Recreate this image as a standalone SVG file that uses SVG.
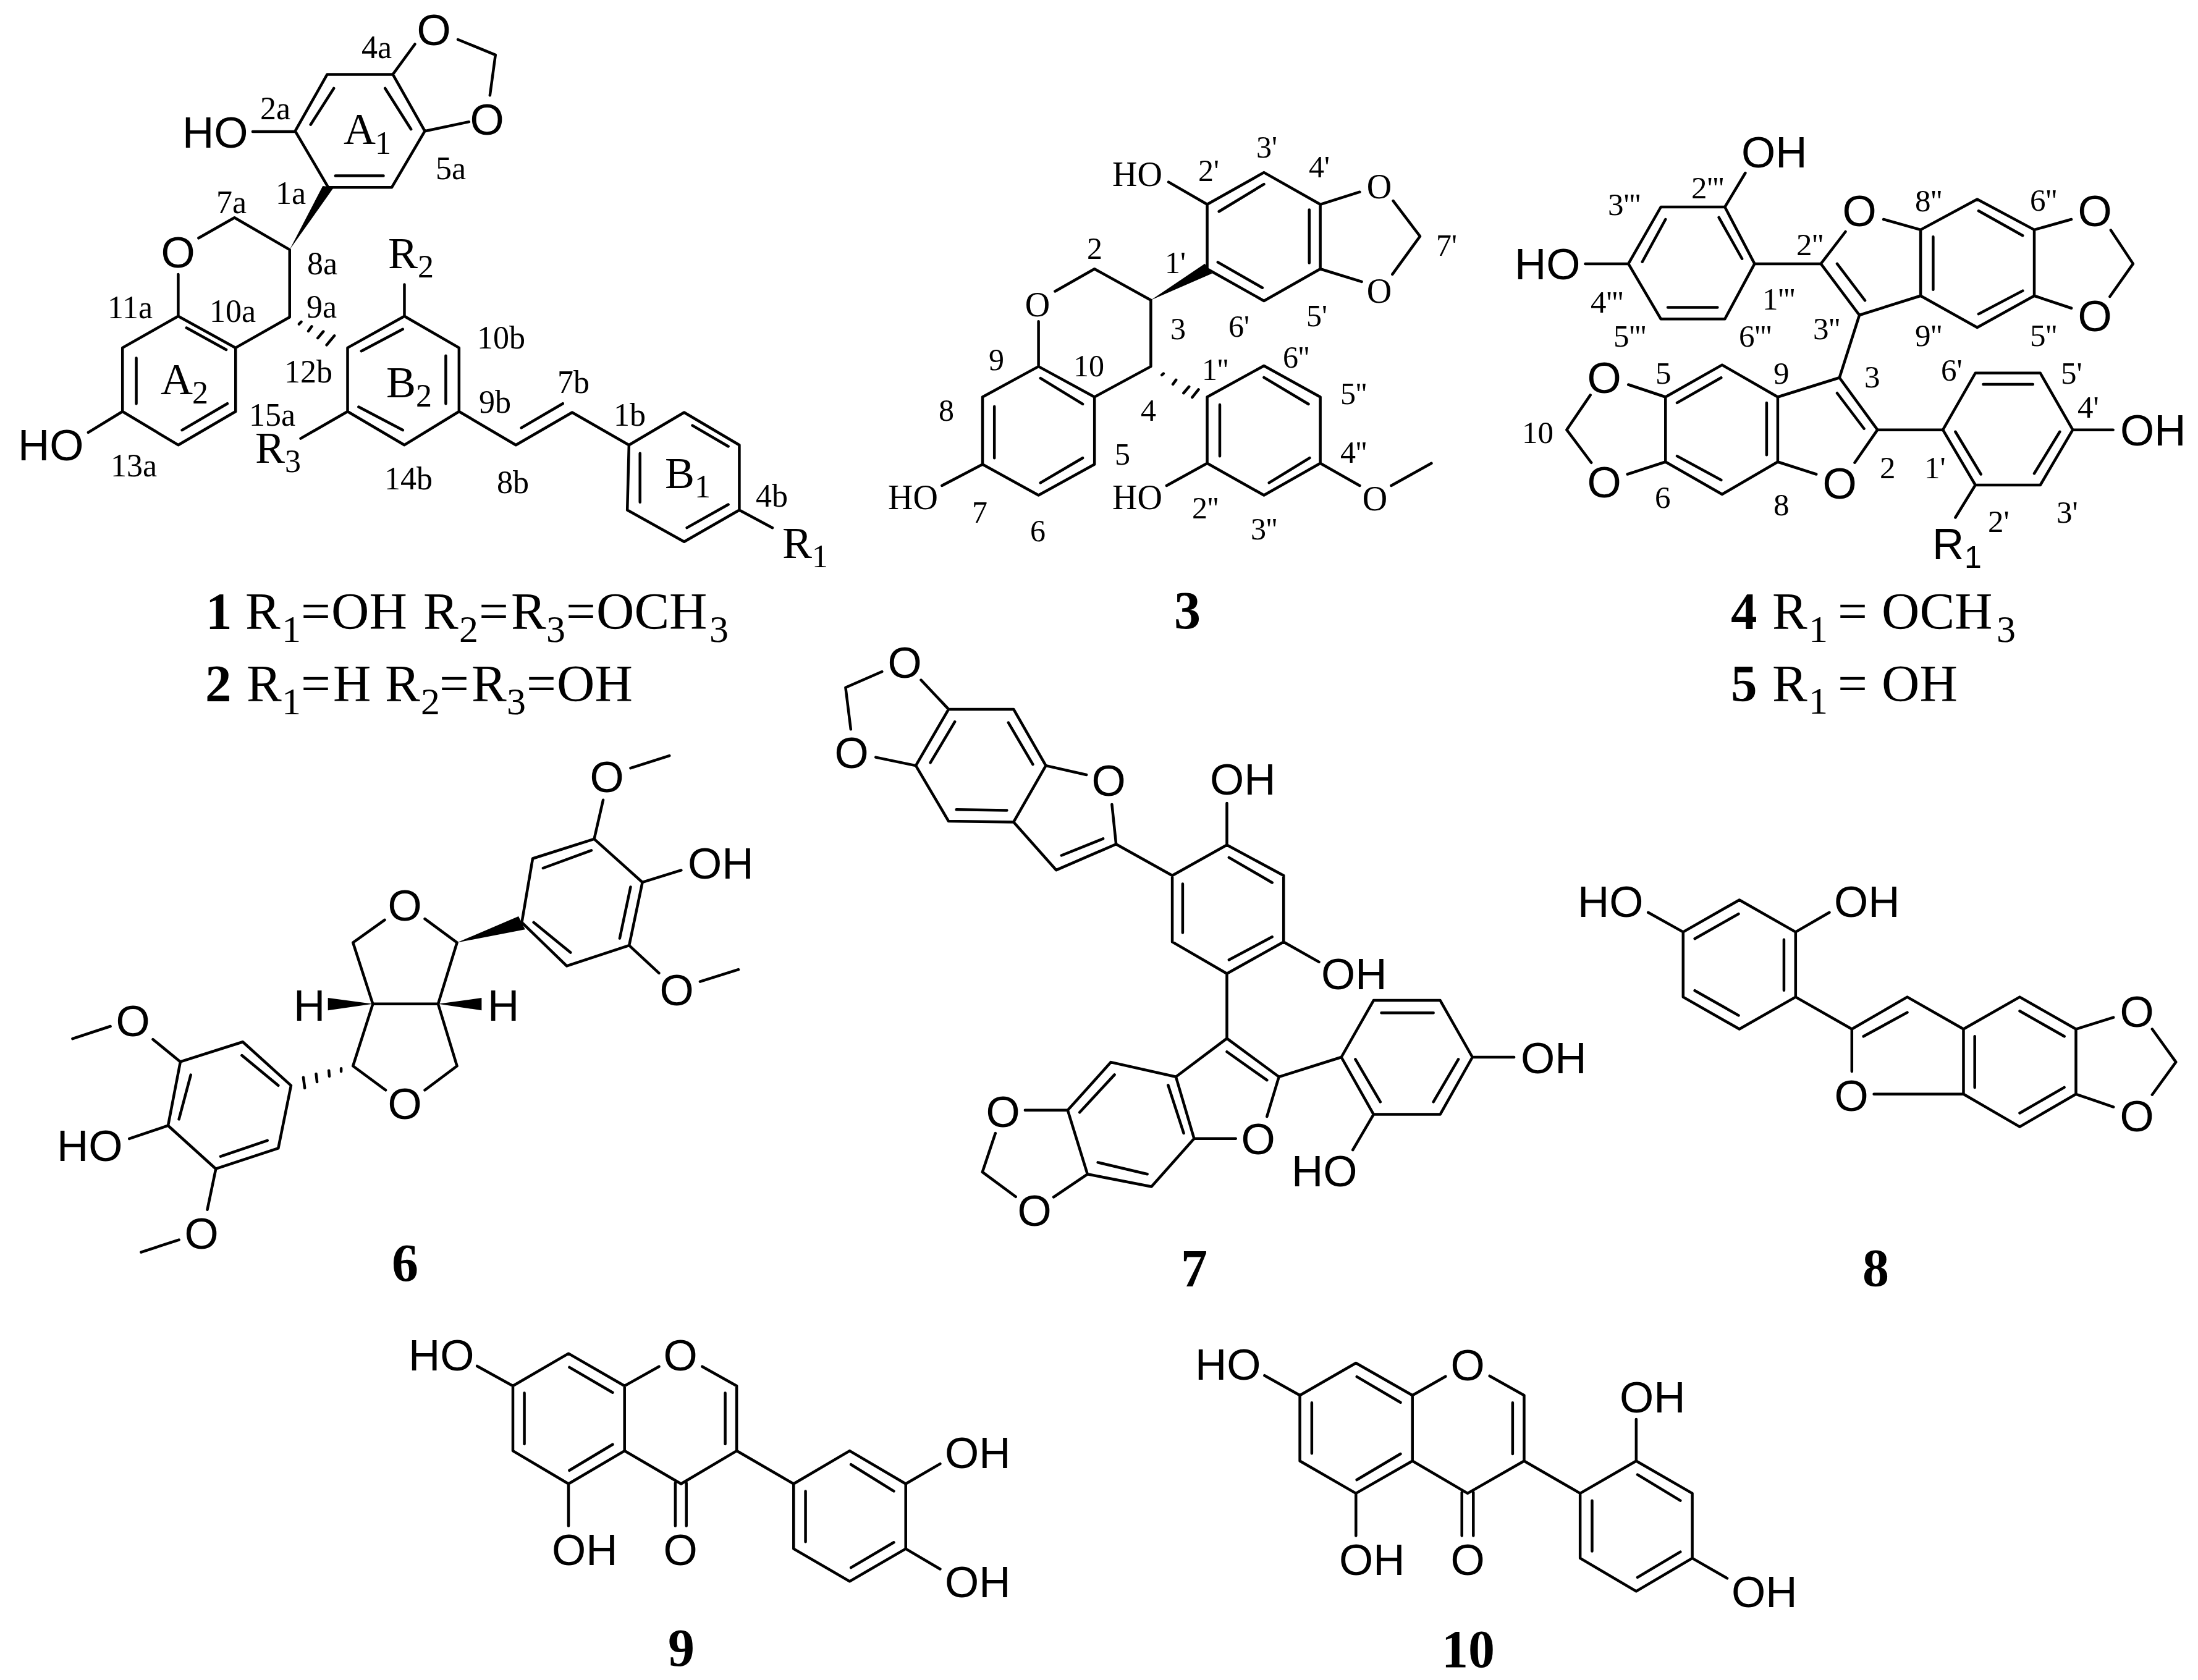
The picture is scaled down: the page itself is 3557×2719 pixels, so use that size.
<svg xmlns="http://www.w3.org/2000/svg" width="3557" height="2719" viewBox="0 0 3557 2719">
<style>
.b{fill:none;stroke:#000;stroke-width:4.5;vector-effect:non-scaling-stroke;stroke-linecap:round;stroke-linejoin:round}
.w{fill:#000;stroke:none}
text{fill:#000}
.s{font:71px "Liberation Sans",Arial,sans-serif}
.sm{font:50px "Liberation Sans",Arial,sans-serif}
.o{font:71px "Liberation Sans",Arial,sans-serif;text-anchor:middle}
.t{font:52px "Liberation Serif","Times New Roman",serif}
.h{font:56px "Liberation Serif","Times New Roman",serif}
.oo{font:56px "Liberation Serif","Times New Roman",serif;text-anchor:middle}
.r{font:72px "Liberation Serif","Times New Roman",serif}
.u{font-size:52px}
.c{font:85px "Liberation Serif","Times New Roman",serif}
.cu{font-size:62px}
.n{font-weight:bold}
.nn{font:bold 86px "Liberation Serif","Times New Roman",serif}
</style>
<rect width="3557" height="2719" fill="#fff"/>

<g id="compound-1">
<g class="bonds" transform="scale(.89286,.75255)">
<path class="b" d="M593 160L712 160L770 282L710 403L595 403L535 282Z M563 268L605 190 M698 190L745 278 M608 378L695 378 M712 160L752 95 M830 85L898 118L888 205 M770 282L850 262 M458 283L535 283 M360 512L425 468L525 537L525 682L427 748 M323 590L323 680 M323 680L427 748L427 885L323 957L222 885L222 748Z M338 705L410 752 M247 770L247 868 M330 925L412 868 M160 930L222 885 M733 680L832 748L832 885L733 957L630 885L630 748Z M730 708L655 755 M808 765L808 868 M650 875L730 925 M733 612L733 680 M545 943L630 885 M832 885L935 957L1037 887L1140 957 M945 920L1020 868 M1140 957L1240 887L1340 957L1340 1097L1240 1165L1137 1097Z M1255 915L1320 960 M1160 975L1160 1080 M1245 1135L1320 1085 M1340 1097L1400 1135 M542 697L546 692 M559 712L565 702 M576 727L586 713 M592 742L606 722"/>
<polygon class="w" points="525,537 585,400 605,403"/>
</g>
<text class="o" x="702" y="73">O</text><text class="o" x="788" y="218">O</text><text class="s" x="295" y="239">HO</text><text class="o" x="288" y="433">O</text><text class="s" x="29" y="745">HO</text>
<g class="t">
<text x="585" y="94">4a</text><text x="421" y="193">2a</text><text x="446" y="330">1a</text><text x="705" y="290">5a</text><text x="350" y="345">7a</text><text x="497" y="444">8a</text><text x="496" y="514">9a</text><text x="174" y="515">11a</text><text x="339" y="521">10a</text><text x="772" y="564">10b</text><text x="460" y="619">12b</text><text x="403" y="689">15a</text><text x="775" y="668">9b</text><text x="902" y="636">7b</text><text x="993" y="689">1b</text><text x="1223" y="820">4b</text><text x="804" y="798">8b</text><text x="622" y="792">14b</text><text x="179" y="771">13a</text>
</g>
<g class="r">
<text x="556" y="233">A<tspan class="u" x="607" y="249">1</tspan></text>
<text x="260" y="638">A<tspan class="u" x="311" y="653">2</tspan></text>
<text x="625" y="643">B<tspan class="u" x="673" y="658">2</tspan></text>
<text x="1076" y="790">B<tspan class="u" x="1124" y="805">1</tspan></text>
<text x="628" y="434">R<tspan class="u" x="676" y="449">2</tspan></text>
<text x="413" y="749">R<tspan class="u" x="461" y="764">3</tspan></text>
<text x="1266" y="903">R<tspan class="u" x="1314" y="918">1</tspan></text>
</g>
<text class="c" y="1018"><tspan class="n" x="333">1</tspan><tspan x="397">R</tspan><tspan class="cu" x="456" y="1039">1</tspan><tspan x="487" y="1018">=</tspan><tspan x="536">OH</tspan><tspan x="685">R</tspan><tspan class="cu" x="743" y="1039">2</tspan><tspan x="775" y="1018">=</tspan><tspan x="827">R</tspan><tspan class="cu" x="884" y="1039">3</tspan><tspan x="916" y="1018">=</tspan><tspan x="965">OCH</tspan><tspan class="cu" x="1148" y="1039">3</tspan></text>
<text class="c" y="1135"><tspan class="n" x="332">2</tspan><tspan x="399">R</tspan><tspan class="cu" x="456" y="1156">1</tspan><tspan x="487" y="1135">=</tspan><tspan x="539">H</tspan><tspan x="623">R</tspan><tspan class="cu" x="681" y="1156">2</tspan><tspan x="711" y="1135">=</tspan><tspan x="763">R</tspan><tspan class="cu" x="820" y="1156">3</tspan><tspan x="852" y="1135">=</tspan><tspan x="901">OH</tspan></text>
</g>

<g id="compound-3">
<g class="bonds" transform="translate(1400,150) scale(.63776,.57398)">
<path class="b" d="M440 772L582 858L582 1048L440 1135L298 1048L298 858Z M445 805L552 878 M328 885L328 1030 M445 1100L552 1030 M440 645L440 772 M482 560L582 497L725 585L725 772L582 858 M195 1108L298 1048 M868 497L868 315L1012 225L1155 315L1155 497L1012 587Z M898 335L1012 258 M1127 330L1127 480 M895 478L1008 550 M770 252L868 315 M1155 315L1255 280 M1155 497L1260 533 M1340 305L1408 405L1338 512 M868 858L1012 770L1155 858L1155 1045L1012 1135L868 1045Z M1012 803L1125 878 M900 880L900 1025 M1025 1100L1128 1030 M765 1108L868 1045 M1155 1045L1255 1108 M1335 1108L1437 1045 M753 796L757 792 M781 822L789 810 M808 847L822 829 M830 859L846 837"/>
<polygon class="w" points="725,585 862,482 880,510"/>
</g>
<text class="oo" x="1679" y="512">O</text><text class="h" x="1437" y="824">HO</text><text class="h" x="1800" y="301">HO</text><text class="oo" x="2232" y="321">O</text><text class="oo" x="2232" y="490">O</text><text class="h" x="1800" y="824">HO</text><text class="oo" x="2225" y="826">O</text>
<g class="t" style="font-size:50px">
<text x="2033" y="255">3'</text><text x="1939" y="293">2'</text><text x="2118" y="287">4'</text><text x="2324" y="414">7'</text><text x="1759" y="419">2</text><text x="1885" y="442">1'</text><text x="1894" y="549">3</text><text x="1988" y="545">6'</text><text x="2114" y="528">5'</text><text x="2076" y="595">6''</text><text x="1945" y="615">1''</text><text x="1600" y="599">9</text><text x="1737" y="609">10</text><text x="1519" y="681">8</text><text x="1846" y="681">4</text><text x="1804" y="752">5</text><text x="2169" y="654">5''</text><text x="2169" y="749">4''</text><text x="1573" y="846">7</text><text x="1667" y="876">6</text><text x="1929" y="839">2''</text><text x="2024" y="873">3''</text>
</g>
<text class="nn" x="1900" y="1017">3</text>
</g>

<g id="compound-4-5">
<g class="bonds" transform="translate(2380,180) scale(.75064,.625)">
<path class="b" d="M410 248L548 248L612 395L548 538L410 538L340 395Z M420 280L370 390 M535 275L585 382 M425 508L532 508 M548 248L592 160 M247 395L340 395 M612 395L755 395L808 312 M890 280L970 307L970 478L838 528L755 395 M790 395L850 490 M997 325L997 462 M970 307L1092 228L1215 307L1215 478L1092 560L970 478 M1095 258L1190 322 M1095 525L1190 465 M1215 307L1295 280 M1215 478L1295 510 M1380 308L1428 395L1378 480 M838 528L795 690 M795 690L662 740L662 908L745 940 M828 910L877 825L795 690 M790 730L848 822 M638 755L638 890 M662 740L542 657L420 740L420 908L542 992L662 908 M540 690L445 755 M445 893L540 955 M340 708L420 740 M338 940L420 908 M258 735L207 825L260 910 M877 825L1018 825 M1018 825L1088 678L1228 678L1298 825L1228 968L1088 968Z M1105 707L1212 707 M1270 830L1215 938 M1045 830L1100 940 M1298 825L1385 825 M1088 968L1045 1052"/>
</g>
<text class="s" x="2818" y="271">OH</text><text class="s" x="2451" y="452">HO</text><text class="o" x="3009" y="366">O</text><text class="o" x="3390" y="366">O</text><text class="o" x="3390" y="536">O</text><text class="o" x="2596" y="636">O</text><text class="o" x="2596" y="805">O</text><text class="o" x="2977" y="807">O</text><text class="s" x="3431" y="721">OH</text><text class="s" x="3127" y="905">R<tspan class="sm" x="3179" y="919">1</tspan></text>
<g class="t" style="font-size:51px">
<text x="2602" y="348">3'''</text><text x="2737" y="321">2'''</text><text x="3099" y="342">8''</text><text x="3285" y="341">6''</text><text x="2907" y="413">2''</text><text x="2852" y="501">1'''</text><text x="2574" y="506">4'''</text><text x="2611" y="561">5'''</text><text x="2814" y="561">6'''</text><text x="2934" y="549">3''</text><text x="3099" y="560">9''</text><text x="3285" y="560">5''</text><text x="2679" y="621">5</text><text x="2870" y="621">9</text><text x="3017" y="627">3</text><text x="3141" y="616">6'</text><text x="3335" y="621">5'</text><text x="3362" y="676">4'</text><text x="2463" y="717">10</text><text x="3042" y="774">2</text><text x="3114" y="774">1'</text><text x="2678" y="822">6</text><text x="2870" y="834">8</text><text x="3217" y="861">2'</text><text x="3328" y="846">3'</text>
</g>
<text class="c" y="1018"><tspan class="n" x="2801">4</tspan><tspan x="2868">R</tspan><tspan class="cu" x="2927" y="1039">1</tspan><tspan x="2974" y="1018">=</tspan><tspan x="3045">OCH</tspan><tspan class="cu" x="3231" y="1039">3</tspan></text>
<text class="c" y="1135"><tspan class="n" x="2801">5</tspan><tspan x="2868">R</tspan><tspan class="cu" x="2927" y="1155">1</tspan><tspan x="2974" y="1135">=</tspan><tspan x="3045">OH</tspan></text>
</g>

<g id="compound-6">
<g class="bonds" transform="translate(60,1180) scale(.76531,.57398)">
<path class="b" d="M710 775L848 775 M710 775L668 602L735 538 M820 535L888 602L848 775 M710 775L668 950L737 1018 M820 1018L888 950L848 775 M1025 545L1048 365L1178 310L1280 432L1252 610L1120 668Z M1070 392L1172 342 M1255 445L1232 590 M1050 545L1128 630 M1280 432L1362 398 M1178 310L1197 200 M1255 110L1337 75 M1252 610L1315 688 M1402 712L1483 678 M537 1005L510 1182L378 1240L277 1118L303 938L435 882Z M487 1160L388 1205 M325 975L300 1100 M433 920L510 1005 M303 938L245 875 M155 838L75 873 M277 1118L195 1155 M378 1240L360 1355 M300 1440L220 1475 M643 957L643 965 M617 963L618 979 M590 972L592 995 M563 982L566 1012"/>
<polygon class="w" points="710,775 615,758 615,793"/>
<polygon class="w" points="848,775 940,758 940,793"/>
<polygon class="w" points="888,602 1018,528 1032,565"/>
</g>
<text class="o" x="655" y="1490">O</text><text class="o" x="655" y="1811">O</text><text class="s" x="475" y="1652">H</text><text class="s" x="789" y="1652">H</text><text class="s" x="1113" y="1422">OH</text><text class="o" x="982" y="1282">O</text><text class="o" x="1095" y="1627">O</text><text class="o" x="215" y="1677">O</text><text class="s" x="92" y="1879">HO</text><text class="o" x="326" y="2021">O</text>
<text class="nn" x="634" y="2073">6</text>
</g>

<g id="compound-7">
<g class="bonds" transform="translate(1280,1060) scale(.84184,.67602)">
<path class="b" d="M250 60L303 130 M175 40L105 78L115 178 M163 245L240 265 M303 130L428 130L490 265L428 400L303 398L240 265Z M315 160L268 258 M418 162L465 262 M318 370L415 372 M490 265L568 287 M617 358L625 453L510 515L428 400 M600 440L520 480 M625 453L733 528 M733 528L838 455L947 528L947 687L838 763L733 687Z M842 485L925 545 M753 548L753 665 M925 675L842 730 M838 455L838 355 M947 687L1015 735 M838 763L838 918L938 1010L915 1105 M855 1158L775 1158 M838 918L740 1010 M838 950L915 1018 M740 1010L615 975L532 1090L570 1243L693 1273L775 1158Z M622 1005L555 1095 M725 1030L755 1145 M590 1215L685 1243 M450 1090L532 1090 M505 1298L570 1243 M393 1145L368 1238L432 1297 M938 1010L1058 963 M1058 963L1120 827L1248 827L1310 963L1248 1100L1120 1100Z M1135 857L1235 857 M1283 968L1235 1070 M1085 968L1133 1070 M1310 963L1390 963 M1120 1100L1080 1185"/>
</g>
<text class="o" x="1464" y="1097">O</text><text class="o" x="1378" y="1243">O</text><text class="o" x="1794" y="1288">O</text><text class="s" x="1958" y="1286">OH</text><text class="s" x="2138" y="1601">OH</text><text class="o" x="1623" y="1824">O</text><text class="o" x="2036" y="1868">O</text><text class="o" x="1674" y="1984">O</text><text class="s" x="2461" y="1737">OH</text><text class="s" x="2090" y="1920">HO</text>
<text class="nn" x="1911" y="2082">7</text>
</g>

<g id="compound-8">
<g class="bonds" transform="translate(2500,1380) scale(.67411,.47194)">
<path class="b" d="M332 272L467 162L602 272L602 495L467 605L332 495Z M360 295L465 210 M574 298L574 472 M360 473L465 558 M248 205L332 272 M602 272L683 205 M602 495L737 605L870 495L1005 605L1005 828L790 828 M737 605L737 750 M765 630L870 548 M1032 630L1032 805 M1005 605L1140 495L1275 605L1275 828L1140 940L1005 828 M1140 543L1247 630 M1140 893L1247 805 M1275 605L1365 565 M1275 828L1365 872 M1458 605L1515 718L1458 830"/>
</g>
<text class="s" x="2553" y="1484">HO</text><text class="s" x="2968" y="1484">OH</text><text class="o" x="2996" y="1798">O</text><text class="o" x="3458" y="1662">O</text><text class="o" x="3458" y="1831">O</text>
<text class="nn" x="3014" y="2081">8</text>
</g>

<g id="compound-9">
<g class="bonds" transform="translate(620,2120) scale(.71429,.38202)">
<path class="b" d="M420 185L547 322L547 597L420 737L294 597L294 322Z M422 243L520 350 M320 352L320 568 M422 680L520 570 M213 238L294 322 M547 322L625 240 M723 240L801 322L801 597L675 737L547 597 M775 352L775 568 M662 733L662 915 M687 733L687 915 M420 737L420 915 M801 597L930 737 M930 737L1057 597L1184 737L1184 1012L1057 1150L930 1012Z M1060 655L1157 768 M957 768L957 982 M1060 1092L1157 985 M1184 737L1262 652 M1184 1012L1262 1098"/>
</g>
<text class="s" x="661" y="2218">HO</text><text class="o" x="1101" y="2218">O</text><text class="s" x="893" y="2533">OH</text><text class="o" x="1101" y="2533">O</text><text class="s" x="1529" y="2376">OH</text><text class="s" x="1529" y="2585">OH</text>
<text class="nn" x="1081" y="2696">9</text>
</g>

<g id="compound-10">
<g class="bonds" transform="translate(1900,2120) scale(.71429,.38202)">
<path class="b" d="M412 225L540 362L540 640L412 777L285 640L285 362Z M414 283L513 392 M312 393L312 608 M414 720L513 610 M205 278L285 362 M540 362L615 282 M715 280L793 362L793 640L665 777L540 640 M767 393L767 610 M652 773L652 957 M678 773L678 957 M412 777L412 957 M793 640L920 777 M920 777L1047 640L1174 777L1174 1052L1047 1192L920 1052Z M1050 698L1147 808 M947 808L947 1022 M1050 1133L1147 1025 M1047 640L1047 463 M1174 1052L1253 1137"/>
</g>
<text class="s" x="1934" y="2233">HO</text><text class="o" x="2375" y="2234">O</text><text class="s" x="2167" y="2549">OH</text><text class="o" x="2375" y="2549">O</text><text class="s" x="2621" y="2286">OH</text><text class="s" x="2802" y="2601">OH</text>
<text class="nn" x="2333" y="2698">10</text>
</g>
</svg>
